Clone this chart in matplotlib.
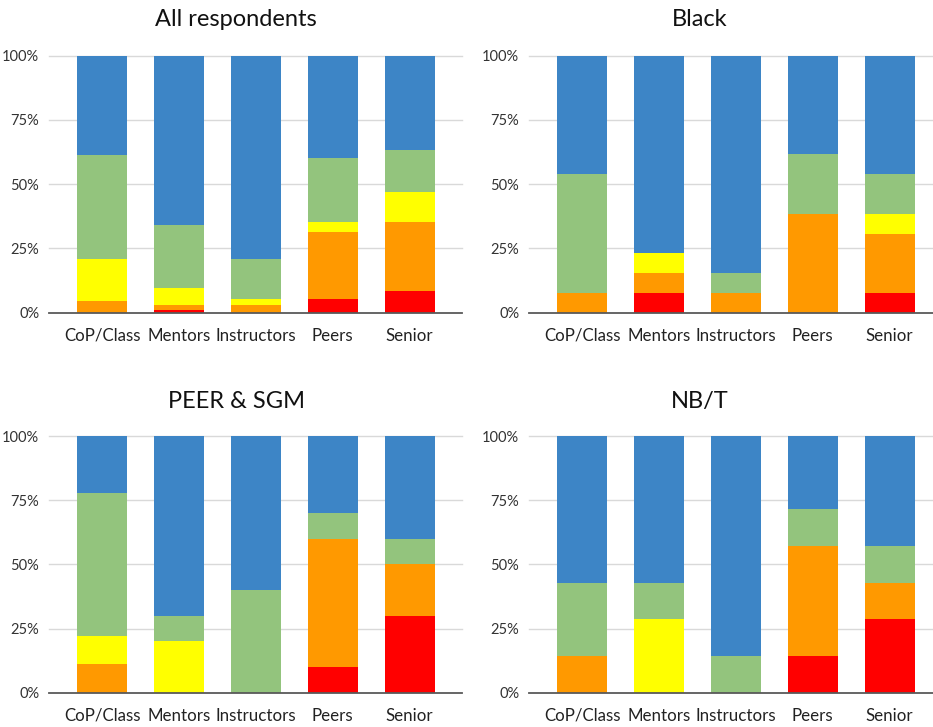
import matplotlib
matplotlib.use('Agg')
import matplotlib.pyplot as plt
import numpy as np
from matplotlib.ticker import PercentFormatter

plt.rcParams['font.family'] = ['Lato', 'DejaVu Sans']

categories = ['CoP/Class', 'Mentors', 'Instructors', 'Peers', 'Senior']
levels = ['red', 'orange', 'yellow', 'green', 'blue']
colors = ['#ff0000', '#ff9900', '#ffff00', '#93c47d', '#3d85c6']

# share (%) per level, bottom (red) to top (blue), one list per level
all_red = [0.0, 1.0, 0.0, 5.4, 8.3]
all_orange = [4.5, 2.0, 3.0, 26.0, 27.1]
all_yellow = [16.4, 6.5, 2.4, 4.0, 11.4]
all_green = [40.4, 24.6, 15.5, 24.8, 16.5]
all_blue = [38.7, 65.9, 79.1, 39.8, 36.7]

black_red = [0.0, 7.7, 0.0, 0.0, 7.7]
black_orange = [7.7, 7.7, 7.7, 38.5, 23.1]
black_yellow = [0.0, 7.7, 0.0, 0.0, 7.7]
black_green = [46.2, 0.0, 7.7, 23.1, 15.4]
black_blue = [46.2, 76.9, 84.6, 38.5, 46.2]

peer_red = [0.0, 0.0, 0.0, 10.0, 30.0]
peer_orange = [11.1, 0.0, 0.0, 50.0, 20.0]
peer_yellow = [11.1, 20.0, 0.0, 0.0, 0.0]
peer_green = [55.6, 10.0, 40.0, 10.0, 10.0]
peer_blue = [22.2, 70.0, 60.0, 30.0, 40.0]

nbt_red = [0.0, 0.0, 0.0, 14.3, 28.6]
nbt_orange = [14.3, 0.0, 0.0, 42.9, 14.3]
nbt_yellow = [0.0, 28.6, 0.0, 0.0, 0.0]
nbt_green = [28.6, 14.3, 14.3, 14.3, 14.3]
nbt_blue = [57.1, 57.1, 85.7, 28.6, 42.9]

panels = [
    ('All respondents', [all_red, all_orange, all_yellow, all_green, all_blue]),
    ('Black', [black_red, black_orange, black_yellow, black_green, black_blue]),
    ('PEER & SGM', [peer_red, peer_orange, peer_yellow, peer_green, peer_blue]),
    ('NB/T', [nbt_red, nbt_orange, nbt_yellow, nbt_green, nbt_blue]),
]

W, H = 933, 727
fig = plt.figure(figsize=(W / 100, H / 100), dpi=100)

# pixel boxes: (left, top of 100%, bottom 0%)
boxes = [(49, 55.7, 312.7), (529, 55.7, 312.7), (49, 436, 692.7), (529, 436, 692.7)]
title_pos = [(236, 19), (700, 19), (236, 401), (700, 401)]
width_px = 413

for (title, series), (lx, ty, by), (tx, tyy) in zip(panels, boxes, title_pos):
    ax = fig.add_axes([lx / W, 1 - by / H, width_px / W, (by - ty) / H])
    x = np.arange(len(categories))
    bottom = np.zeros(len(categories))
    for vals, c in zip(series, colors):
        v = np.array(vals) / 100.0
        ax.bar(x, v, 0.65, bottom=bottom, color=c, linewidth=0, zorder=3)
        bottom += v
    ax.set_xlim(-0.69, 4.68)
    ax.set_ylim(0, 1.0)
    ax.set_yticks([0, 0.25, 0.5, 0.75, 1.0])
    ax.yaxis.set_major_formatter(PercentFormatter(1.0, decimals=0))
    for yv in [0.25, 0.5, 0.75, 1.0]:
        ax.axhline(yv, color='#d9d9d9', lw=1.0, zorder=1, clip_on=False)
    ax.set_xticks(x)
    ax.set_xticklabels(categories, fontsize=12.2, color='#222222')
    ax.tick_params(axis='x', length=0, pad=11)
    ax.tick_params(axis='y', length=0, pad=7, labelsize=10.5, labelcolor='#333333')
    for s in ['top', 'right', 'left']:
        ax.spines[s].set_visible(False)
    ax.spines['bottom'].set_color('#595959')
    ax.spines['bottom'].set_linewidth(1.3)
    ax.spines['bottom'].set_zorder(4)
    fig.text(tx / W, 1 - tyy / H, title, ha='center', va='center', fontsize=17, color='#111111')

fig.savefig('out.png', dpi=100)
